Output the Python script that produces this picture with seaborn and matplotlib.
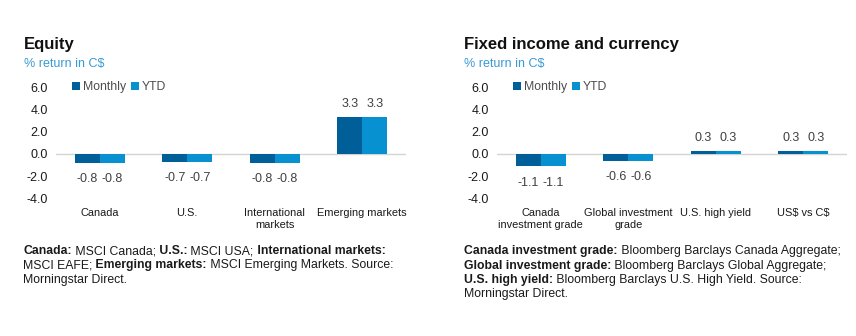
import matplotlib
matplotlib.use("Agg")
import matplotlib.pyplot as plt
import seaborn as sns
import pandas as pd

# ---------------- data ----------------
eq_categories = ["Canada", "U.S.", "International\nmarkets", "Emerging markets"]
eq_monthly = [-0.8, -0.7, -0.8, 3.3]
eq_ytd = [-0.8, -0.7, -0.8, 3.3]

fi_categories = ["Canada\ninvestment grade", "Global investment\ngrade", "U.S. high yield", "US$ vs C$"]
fi_monthly = [-1.1, -0.6, 0.3, 0.3]
fi_ytd = [-1.1, -0.6, 0.3, 0.3]

series_names = ["Monthly", "YTD"]
yticks = [-4.0, -2.0, 0.0, 2.0, 4.0, 6.0]

left_title = "Equity"
right_title = "Fixed income and currency"
subtitle = "% return in C$"

left_notes = [
    [("Canada:", True), (" MSCI Canada;", False), (" U.S.:", True), (" MSCI USA;", False),
     (" International markets:", True)],
    [("MSCI EAFE;", False), (" Emerging markets:", True), (" MSCI Emerging Markets. Source:", False)],
    [("Morningstar Direct.", False)],
]
right_notes = [
    [("Canada investment grade:", True), (" Bloomberg Barclays Canada Aggregate;", False)],
    [("Global investment grade:", True), (" Bloomberg Barclays Global Aggregate;", False)],
    [("U.S. high yield:", True), (" Bloomberg Barclays U.S. High Yield. Source:", False)],
    [("Morningstar Direct.", False)],
]

# ---------------- style ----------------
sns.set_theme(style="white")
plt.rcParams["font.family"] = ["Liberation Sans", "DejaVu Sans"]
plt.rcParams["axes.unicode_minus"] = False
plt.rcParams["text.parse_math"] = False

C_MONTHLY = "#005f99"
C_YTD = "#0891d1"
C_SUB = "#3a9ad3"
C_TEXT = "#1a1a1a"
C_LABEL = "#404040"

W, H = 856, 336
fig = plt.figure(figsize=(W / 100, H / 100), dpi=100)


def make_df(cats, m, y):
    rows = []
    for c, a, b in zip(cats, m, y):
        rows.append({"category": c, "series": series_names[0], "value": a})
        rows.append({"category": c, "series": series_names[1], "value": b})
    return pd.DataFrame(rows)


def px_axes(x0, x1, ytop, ybot):
    return fig.add_axes([x0 / W, 1 - ybot / H, (x1 - x0) / W, (ybot - ytop) / H])


def draw_panel(ax, cats, m, y):
    df = make_df(cats, m, y)
    sns.barplot(data=df, x="category", y="value", hue="series",
                palette=[C_MONTHLY, C_YTD], width=0.57, saturation=1,
                gap=0, linewidth=0, errorbar=None, ax=ax)
    ax.set_ylim(-4, 6)
    ax.set_xlim(-0.5, len(cats) - 0.5)
    ax.set_yticks(yticks)
    ax.set_yticklabels([f"{v:.1f}" for v in yticks], fontsize=9, color=C_TEXT)
    ax.tick_params(axis="y", length=0, pad=6)
    ax.tick_params(axis="x", length=0, pad=7, labelsize=7.9, labelcolor=C_TEXT)
    ax.set_xlabel("")
    ax.set_ylabel("")
    for s in ax.spines.values():
        s.set_visible(False)
    ax.axhline(0, color="#d4d4d4", lw=1, zorder=0)
    for cont in ax.containers:
        vals = cont.datavalues
        pos = [f"{v:.1f}" if v >= 0 else "" for v in vals]
        neg = [f"{v:.1f}" if v < 0 else "" for v in vals]
        ax.bar_label(cont, labels=pos, padding=5, fontsize=9, color=C_LABEL)
        ax.bar_label(cont, labels=neg, padding=7.5, fontsize=9, color=C_LABEL)
    handles, labels = ax.get_legend_handles_labels()
    if ax.get_legend() is not None:
        ax.get_legend().remove()
    ax.legend(handles, labels, loc="center left", bbox_to_anchor=(0.045, 1.0),
              ncol=2, frameon=False, fontsize=8.8, handlelength=0.7,
              handleheight=0.7, handletextpad=0.2, columnspacing=0.4,
              borderpad=0, borderaxespad=0, labelcolor="#4d4d4d")


ax1 = px_axes(56, 406, 87.3, 198.4)
draw_panel(ax1, eq_categories, eq_monthly, eq_ytd)
ax2 = px_axes(497, 847, 87.3, 198.4)
draw_panel(ax2, fi_categories, fi_monthly, fi_ytd)

# titles
for x, t in [(24, left_title), (464, right_title)]:
    fig.text(x / W, 1 - 48.5 / H, t, fontsize=12, weight="bold", color="#111111", va="baseline")
    fig.text(x / W, 1 - 67.5 / H, subtitle, fontsize=9, color=C_SUB, va="baseline")

# footnotes
fig.canvas.draw()
renderer = fig.canvas.get_renderer()


def rich(x0, y0, lines, dy=14.4, size=8.8):
    for i, segs in enumerate(lines):
        xp = x0
        for txt, bold in segs:
            t = fig.text(xp / W, 1 - (y0 + i * dy) / H, txt, fontsize=size,
                         weight="bold" if bold else "normal", color=C_TEXT, va="baseline")
            bb = t.get_window_extent(renderer)
            xp = bb.x1


rich(23, 254, left_notes)
rich(464, 254.3, right_notes)

fig.savefig("out.png", dpi=100)
